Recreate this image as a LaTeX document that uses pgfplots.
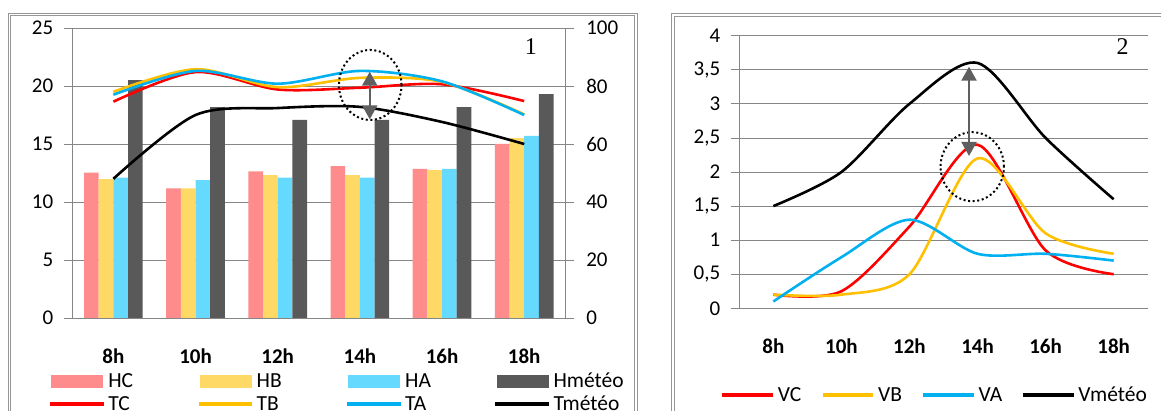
\documentclass[border=0pt]{standalone}
\usepackage{fontspec}
\setmainfont{Carlito}
\newfontfamily\serifnum{Liberation Serif}
\usepackage{pgfplots}
\usepackage{pgfplotstable}
\pgfplotsset{compat=1.18}
\usetikzlibrary{arrows.meta}

\definecolor{hc}{RGB}{255,140,140}
\definecolor{hb}{RGB}{255,217,102}
\definecolor{ha}{RGB}{102,217,255}
\definecolor{hm}{RGB}{89,89,89}
\definecolor{tc}{RGB}{255,0,0}
\definecolor{tb}{RGB}{255,192,0}
\definecolor{ta}{RGB}{0,176,240}
\definecolor{gridc}{RGB}{134,134,134}
\definecolor{framec}{RGB}{150,150,150}
\definecolor{arrowc}{RGB}{95,95,95}

% humidity (%), right axis of chart 1
\pgfplotstableread{
x HC HB HA Hm
0 50.1 47.9 48.4 82.0
1 44.7 44.7 47.5 72.7
2 50.6 49.3 48.4 68.3
3 52.4 49.3 48.4 68.3
4 51.4 51.0 51.4 72.7
5 60.0 62.0 62.8 77.2
}\humid

% temperature, left axis of chart 1
\pgfplotstableread{
x TC TB TA Tm
0 18.65 19.5 19.25 12.0
1 21.2 21.45 21.3 17.5
2 19.7 19.9 20.2 18.1
3 19.85 20.7 21.3 18.2
4 20.15 20.35 20.4 16.9
5 18.7 17.55 17.5 15.0
}\temper

% wind speed, chart 2
\pgfplotstableread{
x VC VB VA Vm
0 0.2 0.2 0.1 1.5
1 0.25 0.2 0.75 2.0
2 1.2 0.5 1.3 3.0
3 2.4 2.2 0.8 3.6
4 0.85 1.1 0.8 2.5
5 0.5 0.8 0.7 1.6
}\wind

\pgfplotsset{
  chartbase/.style={
    scale only axis, anchor=south west,
    xmin=-0.5, xmax=5.5, ymin=0,
    tick align=outside,
    axis line style={draw=gridc, line width=0.8pt},
    every tick/.style={draw=gridc, line width=0.8pt},
    major tick length=8.5pt,
    minor tick length=7pt,
    /pgf/number format/assume math mode=true,
    ticklabel style={font=\fontsize{21}{24}\selectfont},
    grid style={draw=gridc, line width=0.8pt},
    clip=false,
  },
  leftnums/.style={yticklabel style={xshift=-7pt}},
  rightnums/.style={yticklabel style={xshift=9pt}},
  hourticks/.style={
    axis x line*=bottom,
    xtick=\empty,
    minor xtick={-0.5,0.5,...,5.5},
    extra x ticks={0,1,2,3,4,5},
    extra x tick labels={8h,10h,12h,14h,16h,18h},
    extra x tick style={major tick length=0pt,
      ticklabel style={font=\fontsize{21}{24}\selectfont\bfseries, yshift=-27pt}},
  },
  % legend keys sit on the text baseline (cell centre is 4.5pt above it)
  barkey/.style={legend image code/.code={\fill[#1] (0pt,-4.5pt) rectangle (51pt,7.9pt);}},
  linekey/.style={legend image code/.code={\fill[#1] (0pt,1.4pt) rectangle (51pt,2.7pt);}},
  linekeyB/.style={legend image code/.code={\fill[#1] (0pt,1.5pt) rectangle (48pt,2.9pt);}},
  keytext/.style={legend columns=4,
    legend style={draw=none, fill=none, inner sep=0pt, column sep=0pt, row sep=4pt,
      anchor=north west,
      nodes={inner sep=0pt, font=\fontsize{21.5}{24}\selectfont, text height=14pt, text depth=5pt}}},
}

\newcommand\entA[1]{\makebox[94.8pt][l]{\hspace{4.5pt}#1}}
\newcommand\entB[1]{\makebox[49.8pt][l]{\hspace{5pt}#1}}
\newcommand\entZ[1]{\makebox[72pt][l]{\hspace{4.5pt}#1}}

\begin{document}
\begin{tikzpicture}
\path[use as bounding box] (0,0) rectangle (1161pt,410pt);
\fill[white] (0,0) rectangle (1161pt,410pt);

% chart borders
\draw[framec, line width=0.8pt, double=white, double distance=1.5pt] (9.5pt,395.5pt) rectangle (636pt,-40pt);
\draw[framec, line width=0.8pt, double=white, double distance=1.5pt] (673pt,395pt) rectangle (1200pt,-40pt);

% ---- chart 1: humidity bars (right axis) ----
\begin{axis}[chartbase, rightnums,
  width=493pt, height=290pt, at={(72.3pt,92pt)},
  ymax=100, ytick={0,20,...,100},
  axis x line=none, axis y line*=right,
  ymajorgrids]
\addplot[ybar, bar width=0.1786, bar shift=-0.2679, fill=hc, draw=none] table[x=x,y=HC]{\humid};
\addplot[ybar, bar width=0.1786, bar shift=-0.0893, fill=hb, draw=none] table[x=x,y=HB]{\humid};
\addplot[ybar, bar width=0.1786, bar shift=0.0893, fill=ha, draw=none] table[x=x,y=HA]{\humid};
\addplot[ybar, bar width=0.1786, bar shift=0.2679, fill=hm, draw=none] table[x=x,y=Hm]{\humid};
\end{axis}

% ---- chart 1: temperature curves (left axis) ----
\begin{axis}[chartbase, hourticks, keytext, leftnums,
  width=493pt, height=290pt, at={(72.3pt,92pt)},
  ymax=25, ytick={0,5,...,25},
  axis y line*=left,
  legend style={at={(axis description cs:-0.0452,-0.1897)}}]
\addlegendimage{barkey=hc}\addlegendentry{\entA{HC}}
\addlegendimage{barkey=hb}\addlegendentry{\entA{HB}}
\addlegendimage{barkey=ha}\addlegendentry{\entA{HA}}
\addlegendimage{barkey=hm}\addlegendentry{\entZ{Hmétéo}}
\addplot[tc, line width=2.6pt, smooth, tension=0.5, no marks, linekey=tc] table[x=x,y=TC]{\temper};
\addlegendentry{\entA{TC}}
\addplot[tb, line width=2.6pt, smooth, tension=0.5, no marks, linekey=tb] table[x=x,y=TB]{\temper};
\addlegendentry{\entA{TB}}
\addplot[ta, line width=2.6pt, smooth, tension=0.5, no marks, linekey=ta] table[x=x,y=TA]{\temper};
\addlegendentry{\entA{TA}}
\addplot[black, line width=2.6pt, smooth, tension=0.5, no marks, linekey=black] table[x=x,y=Tm]{\temper};
\addlegendentry{\entZ{Tmétéo}}
\draw[black, line width=2pt, dash pattern=on 2pt off 2.6pt] (axis cs:3.126,20.09) ellipse [x radius=31.3pt, y radius=35pt];
\draw[arrowc, line width=2.2pt, {Triangle[width=15pt,length=14pt]}-{Triangle[width=15pt,length=14pt]}] (axis cs:3.12,21.23) -- (axis cs:3.12,17.13);
\node[font=\fontsize{24}{26}\serifnum] at (axis cs:5.08,23.39) {1};
\end{axis}

% ---- chart 2: wind speed ----
\begin{axis}[chartbase, hourticks, keytext, leftnums,
  width=408.4pt, height=272.6pt, at={(739.3pt,101.7pt)},
  ymax=4, ytick={0,0.5,...,4},
  yticklabels={0,{0,5},1,{1,5},2,{2,5},3,{3,5},4},
  axis y line*=left, ymajorgrids,
  legend style={at={(axis description cs:-0.0424,-0.2913)}}]
\addplot[tc, line width=2.6pt, smooth, tension=0.5, no marks, linekeyB=tc] table[x=x,y=VC]{\wind};
\addlegendentry{\entB{VC}}
\addplot[tb, line width=2.6pt, smooth, tension=0.5, no marks, linekeyB=tb] table[x=x,y=VB]{\wind};
\addlegendentry{\entB{VB}}
\addplot[ta, line width=2.6pt, smooth, tension=0.5, no marks, linekeyB=ta] table[x=x,y=VA]{\wind};
\addlegendentry{\entB{VA}}
\addplot[black, line width=2.6pt, smooth, tension=0.5, no marks, linekeyB=black] table[x=x,y=Vm]{\wind};
\addlegendentry{\entZ{Vmétéo}}
\draw[black, line width=2pt, dash pattern=on 2pt off 2.6pt] (axis cs:2.923,2.078) ellipse [x radius=31.7pt, y radius=34.5pt];
\draw[arrowc, line width=2.2pt, {Triangle[width=15pt,length=14pt]}-{Triangle[width=15pt,length=14pt]}] (axis cs:2.875,3.545) -- (axis cs:2.875,2.235);
\node[font=\fontsize{24}{26}\serifnum] at (axis cs:5.13,3.84) {2};
\end{axis}
\end{tikzpicture}
\end{document}
